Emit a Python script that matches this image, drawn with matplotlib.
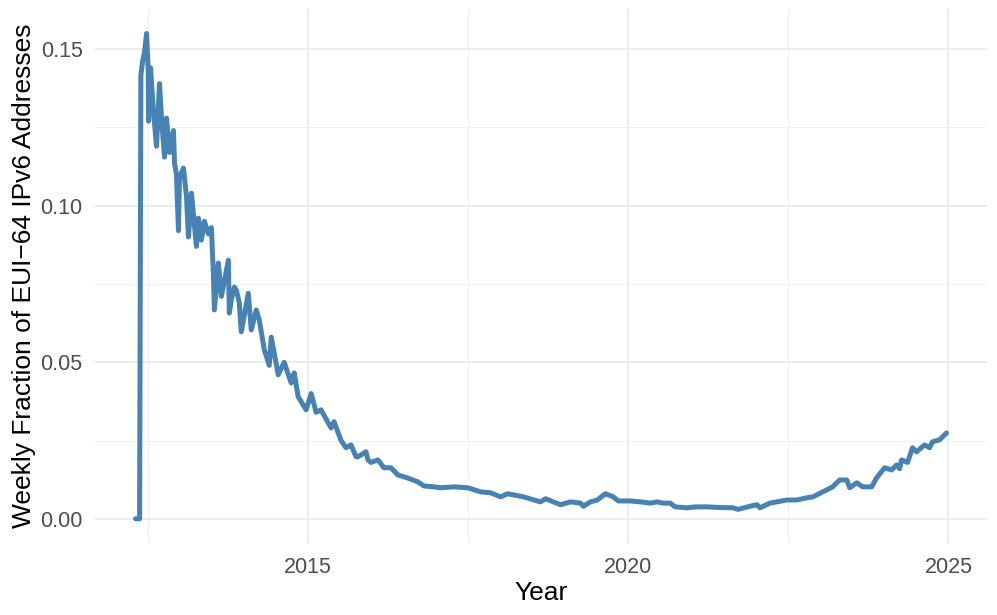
import matplotlib.pyplot as plt
import numpy as np

plt.rcParams['font.family'] = ['Liberation Sans', 'DejaVu Sans']

# weekly fraction (fractional year, value)
years = [
    2012.305, 2012.368, 2012.388, 2012.414, 2012.445, 2012.477, 2012.503, 2012.508,
    2012.539, 2012.581, 2012.632, 2012.679, 2012.710, 2012.757, 2012.788, 2012.835,
    2012.897, 2012.913, 2012.944, 2012.975, 2012.991, 2013.053, 2013.100, 2013.131,
    2013.178, 2013.255, 2013.287, 2013.333, 2013.380, 2013.442, 2013.489, 2013.520,
    2013.536, 2013.598, 2013.645, 2013.754, 2013.769, 2013.801, 2013.847, 2013.879,
    2013.925, 2013.956, 2014.065, 2014.112, 2014.190, 2014.237, 2014.315, 2014.393,
    2014.424, 2014.533, 2014.626, 2014.735, 2014.782, 2014.844, 2014.969, 2015.047,
    2015.125, 2015.202, 2015.358, 2015.405, 2015.514, 2015.592, 2015.670, 2015.748,
    2015.779, 2015.903, 2015.935, 2015.981, 2016.090, 2016.184, 2016.293, 2016.402,
    2016.558, 2016.713, 2016.807, 2016.963, 2017.072, 2017.274, 2017.492, 2017.695,
    2017.850, 2018.006, 2018.115, 2018.364, 2018.629, 2018.707, 2018.941, 2019.097,
    2019.252, 2019.299, 2019.408, 2019.517, 2019.642, 2019.766, 2019.844, 2020.031,
    2020.187, 2020.343, 2020.452, 2020.545, 2020.654, 2020.732, 2020.919, 2021.044,
    2021.231, 2021.433, 2021.636, 2021.713, 2021.900, 2022.009, 2022.056, 2022.212,
    2022.477, 2022.632, 2022.788, 2022.882, 2023.037, 2023.193, 2023.255, 2023.302,
    2023.411, 2023.458, 2023.567, 2023.660, 2023.801, 2023.879, 2024.003, 2024.112,
    2024.190, 2024.237, 2024.268, 2024.361, 2024.439, 2024.502, 2024.626, 2024.704,
    2024.751, 2024.860, 2024.969,
]
fraction = [
    0.0000, 0.0000, 0.1417, 0.1460, 0.1490, 0.1550, 0.1430, 0.1270,
    0.1440, 0.1310, 0.1190, 0.1390, 0.1280, 0.1155, 0.1280, 0.1170,
    0.1240, 0.1136, 0.1100, 0.0920, 0.1090, 0.1120, 0.1030, 0.0900,
    0.1040, 0.0870, 0.0960, 0.0890, 0.0950, 0.0910, 0.0930, 0.0785,
    0.0667, 0.0817, 0.0710, 0.0826, 0.0657, 0.0700, 0.0740, 0.0730,
    0.0690, 0.0597, 0.0720, 0.0603, 0.0667, 0.0635, 0.0540, 0.0490,
    0.0580, 0.0460, 0.0500, 0.0434, 0.0466, 0.0390, 0.0348, 0.0400,
    0.0340, 0.0348, 0.0290, 0.0310, 0.0250, 0.0227, 0.0236, 0.0198,
    0.0198, 0.0214, 0.0188, 0.0180, 0.0188, 0.0163, 0.0163, 0.0140,
    0.0130, 0.0118, 0.0105, 0.0102, 0.0099, 0.0102, 0.0099, 0.0086,
    0.0083, 0.0070, 0.0080, 0.0070, 0.0054, 0.0064, 0.0045, 0.0054,
    0.0050, 0.0040, 0.0054, 0.0060, 0.0080, 0.0070, 0.0057, 0.0057,
    0.0054, 0.0050, 0.0054, 0.0050, 0.0050, 0.0038, 0.0035, 0.0038,
    0.0038, 0.0036, 0.0035, 0.0030, 0.0040, 0.0045, 0.0035, 0.0050,
    0.0060, 0.0060, 0.0067, 0.0070, 0.0086, 0.0102, 0.0115, 0.0124,
    0.0124, 0.0099, 0.0115, 0.0102, 0.0102, 0.0131, 0.0163, 0.0156,
    0.0172, 0.0160, 0.0188, 0.0180, 0.0227, 0.0214, 0.0236, 0.0227,
    0.0246, 0.0252, 0.0274,
]

x_ticks = [2015, 2020, 2025]
x_minor = [2012.5, 2017.5, 2022.5]
y_ticks = [0.00, 0.05, 0.10, 0.15]
y_labels = ['0.00', '0.05', '0.10', '0.15']
y_minor = [0.025, 0.075, 0.125]

fig = plt.figure(figsize=(9.97, 6.15), dpi=100)
ax = fig.add_axes([0.0953, 0.117, 0.8947, 0.868])

ax.plot(years, fraction, color='#4682B4', lw=3.6, solid_joinstyle='round',
        solid_capstyle='round', zorder=3)

# ggplot-like 5% expansion
xr = max(years) - min(years)
ax.set_xlim(min(years) - 0.05 * xr, max(years) + 0.05 * xr)
yr = max(fraction) - min(fraction)
ax.set_ylim(min(fraction) - 0.05 * yr, max(fraction) + 0.05 * yr)

ax.set_xticks(x_ticks)
ax.set_xticks(x_minor, minor=True)
ax.set_yticks(y_ticks)
ax.set_yticklabels(y_labels)
ax.set_yticks(y_minor, minor=True)

ax.grid(which='major', color='#EBEBEB', lw=1.3)
ax.grid(which='minor', color='#F2F2F2', lw=0.8)
ax.set_axisbelow(True)
for s in ax.spines.values():
    s.set_visible(False)
ax.tick_params(which='both', length=0, labelsize=15.5, labelcolor='#4D4D4D')
ax.tick_params(axis='x', pad=10)
ax.tick_params(axis='y', pad=9)

ax.set_xlabel('Year', fontsize=19, labelpad=2)
ax.set_ylabel('Weekly Fraction of EUI\u221264 IPv6 Addresses', fontsize=19, labelpad=3)

fig.savefig('out.png', dpi=100)
